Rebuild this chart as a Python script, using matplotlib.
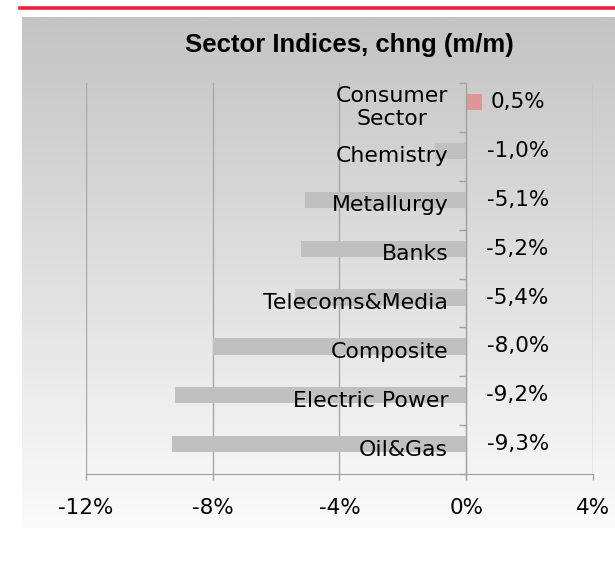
import numpy as np
import matplotlib
matplotlib.use("Agg")
import matplotlib.pyplot as plt
from matplotlib.lines import Line2D

plt.rcParams['font.family'] = 'DejaVu Sans'

# data, bottom to top
sectors = ["Oil&Gas", "Electric Power", "Composite", "Telecoms&Media",
           "Banks", "Metallurgy", "Chemistry", "Consumer\nSector"]
changes = [-9.3, -9.2, -8.0, -5.4, -5.2, -5.1, -1.0, 0.5]
xticks = [-12, -8, -4, 0, 4]

W, H = 615, 572
fig = plt.figure(figsize=(W / 100, H / 100), dpi=100)

# gradient panel behind the chart
bg = fig.add_axes([22 / W, 1 - 528 / H, (W - 22) / W, (528 - 17) / H])
grad = np.linspace(0, 1, 256).reshape(-1, 1)
bg.imshow(grad, aspect='auto', cmap=matplotlib.colors.LinearSegmentedColormap.from_list(
    'g', ['#c4c4c4', '#fbfbfb']), extent=[0, 1, 0, 1], origin='upper')
bg.set_axis_off()

# red rule on top
fig.add_artist(Line2D([20 / W, 1], [1 - 7.5 / H] * 2, color='#e8243f', lw=2.6))

fig.text(349 / W, 1 - 45 / H, "Sector Indices, chng (m/m)", ha='center', va='center',
         fontsize=18.5, fontweight='bold',
         family=['Liberation Sans Narrow', 'Liberation Sans', 'DejaVu Sans'])

ax = fig.add_axes([86 / W, 1 - 474 / H, (593 - 86) / W, (474 - 83) / H])
ax.set_facecolor('none')

ypos = np.arange(len(sectors))
colors = ['#e09696' if v > 0 else '#c0c0c0' for v in changes]
ax.barh(ypos + 0.11, changes, height=0.33, color=colors, zorder=2)

ax.set_xlim(-12, 4)
ax.set_ylim(-0.5, len(sectors) - 0.5)
ax.set_xticks(xticks)
ax.set_xticklabels([f"{v}%" for v in xticks], fontsize=15.5)
ax.grid(axis='x', color='#a8a8a8', lw=1, zorder=0)

ax.set_yticks(np.arange(len(sectors) + 1) - 0.5)
ax.set_yticklabels([])
ax.tick_params(axis='y', direction='out', length=5, color='#a0a0a0', width=1)
ax.tick_params(axis='x', direction='out', length=4, color='#a0a0a0', width=1, pad=13)

for s in ['top', 'right']:
    ax.spines[s].set_visible(False)
ax.spines['left'].set_position(('data', 0))
ax.spines['left'].set_color('#a0a0a0')
ax.spines['bottom'].set_color('#a0a0a0')
ax.spines['left'].set_zorder(3)

for y, name, v in zip(ypos, sectors, changes):
    ax.annotate(name, xy=(0, y), xytext=(-13, 0), textcoords='offset points',
                ha='right', va='center', multialignment='center', fontsize=15.8, zorder=4)
    ax.annotate(f"{v:.1f}%".replace('.', ','), xy=(0, y + 0.11), xytext=(37, 0),
                textcoords='offset points', ha='center', va='center', fontsize=15.5, zorder=4)

fig.savefig("out.png", dpi=100)
